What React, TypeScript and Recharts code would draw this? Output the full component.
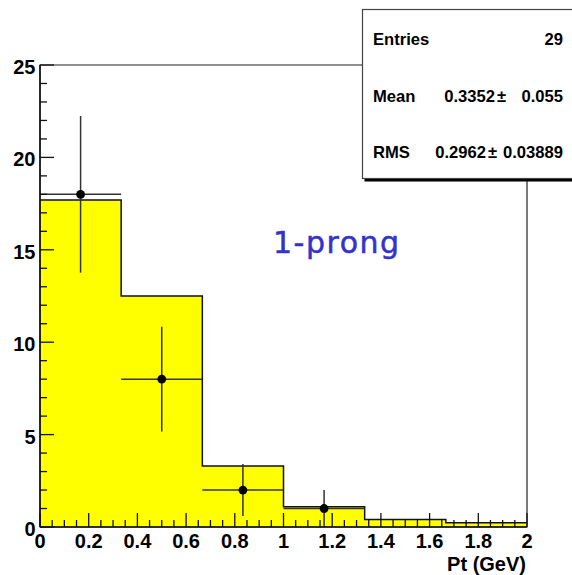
import React from 'react';
import { ComposedChart, Area, Scatter, ErrorBar, XAxis, YAxis, ReferenceArea } from 'recharts';

// Histogram bins (Pt in GeV) and contents
const binEdges = [0, 0.3333, 0.6667, 1.0, 1.3333, 1.6667, 2.0];
const binContents = [17.7, 12.5, 3.3, 1.1, 0.4, 0.23];

// Data points with errors
const pointX = [0.1667, 0.5, 0.8333, 1.1667];
const pointY = [18, 8, 2, 1];
const pointErrY = [4.24, 2.83, 1.41, 1.0];
const pointErrX = [0.1667, 0.1667, 0.1667, 0.1667];

// Axis ticks
const xMajorTicks = [0, 0.2, 0.4, 0.6, 0.8, 1.0, 1.2, 1.4, 1.6, 1.8, 2.0];
const xTickLabels = ['0', '0.2', '0.4', '0.6', '0.8', '1', '1.2', '1.4', '1.6', '1.8', '2'];
const xMinorStep = 0.05;
const yMajorTicks = [0, 5, 10, 15, 20, 25];
const yTickLabels = ['0', '5', '10', '15', '20', '25'];
const yMinorStep = 1;

// Stats box
const statsLabels = ['Entries', 'Mean', 'RMS'];
const statsValues = ['29', '0.3352', '0.2962'];
const statsErrors = ['', '0.055', '0.03889'];

const histData = binEdges.map((x, i) => ({ x, h: binContents[Math.min(i, binContents.length - 1)] }));
const pointData = pointX.map((x, i) => ({ x, y: pointY[i], ex: pointErrX[i], ey: pointErrY[i] }));

const xAllTicks: number[] = [];
for (let i = 0; i <= Math.round(2 / xMinorStep); i++) xAllTicks.push(+(i * xMinorStep).toFixed(4));
const yAllTicks: number[] = [];
for (let i = 0; i <= Math.round(25 / yMinorStep); i++) yAllTicks.push(i * yMinorStep);

const FONT = '"Liberation Sans", Arial, Helvetica, sans-serif';

const XTick = (props: any) => {
  const { x, y, payload } = props;
  const v = payload.value;
  const mi = xMajorTicks.findIndex((t) => Math.abs(t - v) < 1e-6);
  const major = mi >= 0;
  return (
    <g>
      <line x1={x} y1={y} x2={x} y2={y - (major ? 14 : 7)} stroke="#111" strokeWidth={1.3} />
      {major && (
        <text x={x} y={y + 20.5} textAnchor="middle" fontFamily={FONT} fontWeight="bold" fontSize={20} fill="#000">
          {xTickLabels[mi]}
        </text>
      )}
    </g>
  );
};

const YTick = (props: any) => {
  const { x, y, payload } = props;
  const v = payload.value;
  const mi = yMajorTicks.findIndex((t) => Math.abs(t - v) < 1e-6);
  const major = mi >= 0;
  return (
    <g>
      <line x1={x} y1={y} x2={x + (major ? 14 : 7)} y2={y} stroke="#111" strokeWidth={1.3} />
      {major && (
        <text x={x - 4.5} y={y + 9} textAnchor="end" fontFamily={FONT} fontWeight="bold" fontSize={20} fill="#000">
          {yTickLabels[mi]}
        </text>
      )}
    </g>
  );
};

const Dot = (props: any) => <circle cx={props.cx} cy={props.cy} r={4.4} fill="#000" />;

const MARGIN = { top: 65, right: 45, bottom: 0, left: 0 };

function Axes({ visible }: { visible: boolean }) {
  return [
    <XAxis
      key="x"
      dataKey="x"
      type="number"
      domain={[0, 2]}
      ticks={xAllTicks}
      interval={0}
      tick={visible ? <XTick /> : false}
      tickLine={false}
      tickSize={0}
      tickMargin={0}
      height={48}
      axisLine={visible ? { stroke: '#111', strokeWidth: 1.5 } : false}
      allowDataOverflow
    />,
    <YAxis
      key="y"
      type="number"
      domain={[0, 25]}
      ticks={yAllTicks}
      interval={0}
      tick={visible ? <YTick /> : false}
      tickLine={false}
      tickSize={0}
      tickMargin={0}
      width={40}
      axisLine={visible ? { stroke: '#111', strokeWidth: 1.5 } : false}
      allowDataOverflow
    />,
  ];
}

export default function App() {
  const rowBase = [45, 101.7, 158];
  return (
    <div style={{ position: 'absolute', left: 0, top: 0, width: 572, height: 575, overflow: 'hidden', background: '#fff' }}>
      <div style={{ position: 'absolute', left: 0, top: 0 }}>
        <ComposedChart width={572} height={575} margin={MARGIN}>
          <Area
            data={histData}
            dataKey="h"
            type="stepAfter"
            fill="#ffff00"
            fillOpacity={1}
            stroke="#111"
            strokeWidth={1.5}
            baseValue={0}
            isAnimationActive={false}
            dot={false}
            activeDot={false}
          />
          {Axes({ visible: false })}
        </ComposedChart>
      </div>
      <div style={{ position: 'absolute', left: 0, top: 0 }}>
        <ComposedChart width={572} height={575} margin={MARGIN}>
          <ReferenceArea x1={0} x2={2} y1={0} y2={25} fill="none" stroke="#222" strokeWidth={1.2} />
          <Scatter data={pointData} dataKey="y" shape={<Dot />} isAnimationActive={false}>
            <ErrorBar dataKey="ey" direction="y" width={0} stroke="#333" strokeWidth={1.5} />
            <ErrorBar dataKey="ex" direction="x" width={0} stroke="#333" strokeWidth={1.5} />
          </Scatter>
          {Axes({ visible: true })}
        </ComposedChart>
      </div>
      <svg width={572} height={575} style={{ position: 'absolute', left: 0, top: 0, pointerEvents: 'none' }}>
        <text x={526} y={571} textAnchor="end" fontFamily={FONT} fontWeight="bold" fontSize={20} fill="#000">
          Pt (GeV)
        </text>
        <text
          x={273}
          y={253}
          fontFamily='"DejaVu Sans", sans-serif'
          fontSize={30}
          letterSpacing={1.5}
          fill="#3333cc"
          stroke="#3333cc"
          strokeWidth={0.5}
        >
          1-prong
        </text>
        <rect x={364.5} y={11.5} width={240} height={170} fill="#000" />
        <rect x={362.5} y={9.5} width={240} height={169} fill="#fff" stroke="#444" strokeWidth={1.2} />
        {statsLabels.map((lab, i) => (
          <g key={lab} fontFamily={FONT} fontWeight="bold" fontSize={16.6} fill="#000">
            <text x={373} y={rowBase[i]}>{lab}</text>
            {i === 0 ? (
              <text x={563} y={rowBase[i]} textAnchor="end">{statsValues[i]}</text>
            ) : (
              <>
                <text x={i === 1 ? 495 : 486} y={rowBase[i]} textAnchor="end">{statsValues[i]}</text>
                <text x={i === 1 ? 497 : 488} y={rowBase[i]}>±</text>
                <text x={563} y={rowBase[i]} textAnchor="end">{statsErrors[i]}</text>
              </>
            )}
          </g>
        ))}
      </svg>
    </div>
  );
}
